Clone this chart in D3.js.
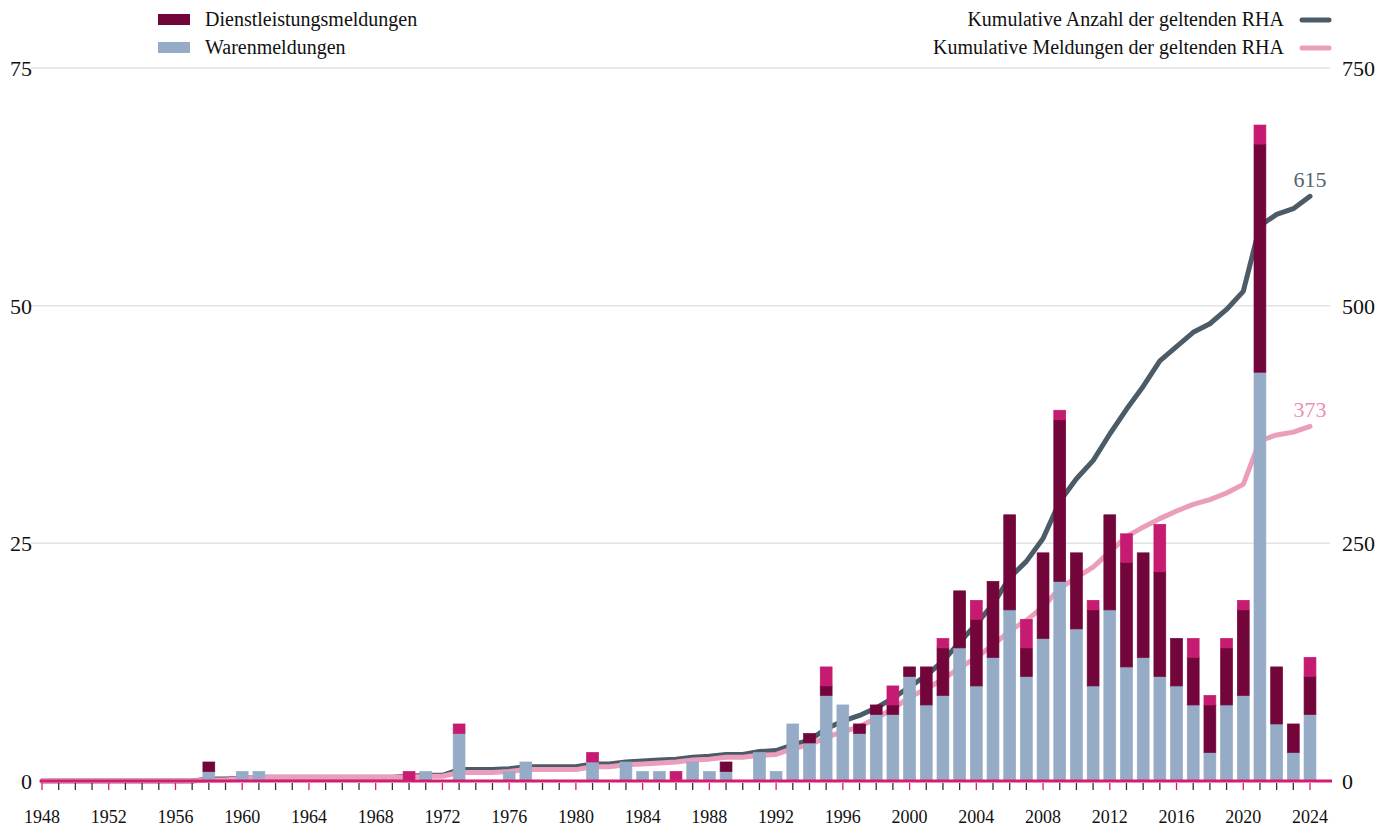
<!DOCTYPE html>
<html>
<head>
<meta charset="utf-8">
<script src="https://cdn.jsdelivr.net/npm/d3@7"></script>
<style>
  html, body { margin: 0; padding: 0; background: #fff; }
  svg { display: block; }
  text { font-family: "Liberation Serif", "Times New Roman", serif; }
</style>
</head>
<body>
<svg id="chart" width="1397" height="827"></svg>
<script>
// ---------- DATA (years 1948 .. 2024) ----------
const firstYear = 1948;
const lastYear = 2024;

// Warenmeldungen (goods notifications) per year
const waren = [
  0,0,0,0,0,0,0,0,0,0,          // 1948-1957
  1,0,1,1,0,0,0,0,0,0,          // 1958-1967
  0,0,0,1,0,5,0,0,1,2,          // 1968-1977
  0,0,0,2,0,2,1,1,0,2,          // 1978-1987
  1,1,0,3,1,6,4,9,8,5,          // 1988-1997
  7,7,11,8,9,14,10,13,18,11,    // 1998-2007
  15,21,16,10,18,12,13,11,10,8, // 2008-2017
  3,8,9,43,6,3,7                // 2018-2024
];

// Dienstleistungsmeldungen (services notifications) per year
const dienst = [
  0,0,0,0,0,0,0,0,0,0,          // 1948-1957
  1,0,0,0,0,0,0,0,0,0,          // 1958-1967
  0,0,0,0,0,0,0,0,0,0,          // 1968-1977
  0,0,0,0,0,0,0,0,0,0,          // 1978-1987
  0,1,0,0,0,0,1,1,0,1,          // 1988-1997
  1,1,1,4,5,6,7,8,10,3,         // 1998-2007
  9,17,8,8,10,11,11,11,5,5,     // 2008-2017
  5,6,9,24,6,3,4                // 2018-2024
];

// Beitritte (accessions, magenta top segment) per year
const beitritt = [
  0,0,0,0,0,0,0,0,0,0,          // 1948-1957
  0,0,0,0,0,0,0,0,0,0,          // 1958-1967
  0,0,1,0,0,1,0,0,0,0,          // 1968-1977
  0,0,0,1,0,0,0,0,1,0,          // 1978-1987
  0,0,0,0,0,0,0,2,0,0,          // 1988-1997
  0,2,0,0,1,0,2,0,0,3,          // 1998-2007
  0,1,0,1,0,3,0,5,0,2,          // 2008-2017
  1,1,1,2,0,0,2                 // 2018-2024
];

// Kumulative Anzahl der geltenden RHA (dark line, right axis)
const kumAnzahl = [
  0,0,0,0,0,0,0,0,0,0,                     // 1948-1957
  2,2,3,4,4,4,4,4,4,4,                     // 1958-1967
  4,4,5,6,6,12,12,12,13,15,                // 1968-1977
  15,15,15,18,18,20,21,22,23,25,           // 1978-1987
  26,28,28,31,32,38,43,55,63,69,           // 1988-1997
  77,87,99,111,126,146,165,186,214,231,    // 1998-2007
  255,294,318,337,365,391,415,442,457,472, // 2008-2017
  481,496,515,584,596,602,615              // 2018-2024
];

// Kumulative Meldungen der geltenden RHA (pink line, right axis)
const kumMeldungen = [
  0,0,0,0,0,0,0,0,0,0,                     // 1948-1957
  1,1,3,4,4,4,4,4,4,4,                     // 1958-1967
  4,4,4,5,5,9,9,9,10,12,                   // 1968-1977
  12,12,12,15,15,17,18,19,20,22,           // 1978-1987
  23,25,25,27,28,34,38,46,52,57,           // 1988-1997
  66,76,88,97,107,119,130,143,158,169,     // 1998-2007
  183,203,214,225,241,257,267,276,284,291, // 2008-2017
  296,303,312,358,364,367,373              // 2018-2024
];

const leftTicks = [0, 25, 50, 75];
const rightTicks = [0, 250, 500, 750];
const labelYears = [1948,1952,1956,1960,1964,1968,1972,1976,1980,1984,1988,1992,1996,2000,2004,2008,2012,2016,2020,2024];

const legendBars = ["Dienstleistungsmeldungen", "Warenmeldungen"];
const legendLines = ["Kumulative Anzahl der geltenden RHA", "Kumulative Meldungen der geltenden RHA"];

// ---------- STYLE ----------
const C = {
  waren: "#95abc6",
  dienst: "#72063a",
  beitritt: "#c51b70",
  anzahl: "#4b5b67",
  meldungen: "#eb9dbc",
  axis: "#d81b72",
  grid: "#e3e3e3",
  text: "#111111",
  labAnzahl: "#56656f",
  labMeld: "#e98fb5"
};

const years = d3.range(firstYear, lastYear + 1);
const svg = d3.select("#chart");

const x = d3.scaleBand()
  .domain(years)
  .range([33.66, 1318.34])
  .paddingInner(0.29)
  .paddingOuter(0.145);
const cx = yr => x(yr) + x.bandwidth() / 2;

const yL = d3.scaleLinear().domain([0, 75]).range([781, 68]);
const yR = d3.scaleLinear().domain([0, 750]).range([781, 68]);

// gridlines
svg.append("g").selectAll("line")
  .data(leftTicks.filter(d => d > 0))
  .join("line")
  .attr("x1", 31).attr("x2", 1330)
  .attr("y1", d => yL(d)).attr("y2", d => yL(d))
  .attr("stroke", C.grid).attr("stroke-width", 1.5);

// left axis labels
svg.append("g").selectAll("text")
  .data(leftTicks)
  .join("text")
  .attr("x", 32).attr("y", d => yL(d) + 8)
  .attr("text-anchor", "end")
  .attr("font-size", 22).attr("fill", C.text)
  .text(d => d);

// right axis labels
svg.append("g").selectAll("text")
  .data(rightTicks)
  .join("text")
  .attr("x", 1342).attr("y", d => yR(d) + 8)
  .attr("text-anchor", "start")
  .attr("font-size", 22).attr("fill", C.text)
  .text(d => d);

// cumulative lines (behind bars)
const lineGen = arr => d3.line()
  .x((d, i) => cx(years[i]))
  .y(d => yR(d))(arr);

svg.append("path")
  .attr("d", lineGen(kumAnzahl))
  .attr("fill", "none").attr("stroke", C.anzahl)
  .attr("stroke-width", 5).attr("stroke-linejoin", "round").attr("stroke-linecap", "round");

svg.append("path")
  .attr("d", lineGen(kumMeldungen))
  .attr("fill", "none").attr("stroke", C.meldungen)
  .attr("stroke-width", 5).attr("stroke-linejoin", "round").attr("stroke-linecap", "round");

// stacked bars
const rows = years.map((yr, i) => ({ year: yr, waren: waren[i], dienst: dienst[i], beitritt: beitritt[i] }))
  .filter(r => r.waren + r.dienst + r.beitritt > 0);
const keys = ["waren", "dienst", "beitritt"];
const stack = d3.stack().keys(keys)(rows);

svg.append("g").selectAll("g")
  .data(stack)
  .join("g")
  .attr("fill", d => C[d.key])
  .attr("stroke", d => C[d.key])
  .selectAll("rect")
  .data(d => d)
  .join("rect")
  .attr("x", d => x(d.data.year))
  .attr("width", x.bandwidth())
  .attr("y", d => yL(d[1]))
  .attr("height", d => yL(d[0]) - yL(d[1]))
  .attr("stroke-width", 0.7);

// x axis line
svg.append("line")
  .attr("x1", 40).attr("x2", 1332)
  .attr("y1", 781).attr("y2", 781)
  .attr("stroke", C.axis).attr("stroke-width", 3);

// ticks
svg.append("g").selectAll("line")
  .data(years)
  .join("line")
  .attr("x1", d => cx(d)).attr("x2", d => cx(d))
  .attr("y1", 783).attr("y2", 790)
  .attr("stroke", d => labelYears.includes(d) ? C.axis : "#333")
  .attr("stroke-width", 1.3);

// tick labels
svg.append("g").selectAll("text")
  .data(labelYears)
  .join("text")
  .attr("x", d => cx(d)).attr("y", 823)
  .attr("text-anchor", "middle")
  .attr("font-size", 18).attr("fill", C.text)
  .text(d => d);

// end labels
const last = years.length - 1;
svg.append("text")
  .attr("x", cx(lastYear)).attr("y", yR(kumAnzahl[last]) - 9)
  .attr("text-anchor", "middle").attr("font-size", 22)
  .attr("fill", C.labAnzahl)
  .text(kumAnzahl[last]);
svg.append("text")
  .attr("x", cx(lastYear)).attr("y", yR(kumMeldungen[last]) - 9)
  .attr("text-anchor", "middle").attr("font-size", 22)
  .attr("fill", C.labMeld)
  .text(kumMeldungen[last]);

// legend left (bars)
const legL = svg.append("g");
[C.dienst, C.waren].forEach((col, i) => {
  legL.append("rect").attr("x", 158).attr("y", 14 + i * 28).attr("width", 32).attr("height", 11).attr("fill", col);
  legL.append("text").attr("x", 205).attr("y", 26 + i * 27.5)
    .attr("font-size", 20).attr("fill", C.text).text(legendBars[i]);
});

// legend right (lines)
const legR = svg.append("g");
[C.anzahl, C.meldungen].forEach((col, i) => {
  legR.append("line").attr("x1", 1302).attr("x2", 1329)
    .attr("y1", 20 + i * 28).attr("y2", 20 + i * 28)
    .attr("stroke", col).attr("stroke-width", 5).attr("stroke-linecap", "round");
  legR.append("text").attr("x", 1284).attr("y", 26 + i * 27.5)
    .attr("text-anchor", "end")
    .attr("font-size", 20).attr("fill", C.text).text(legendLines[i]);
});
</script>
</body>
</html>
